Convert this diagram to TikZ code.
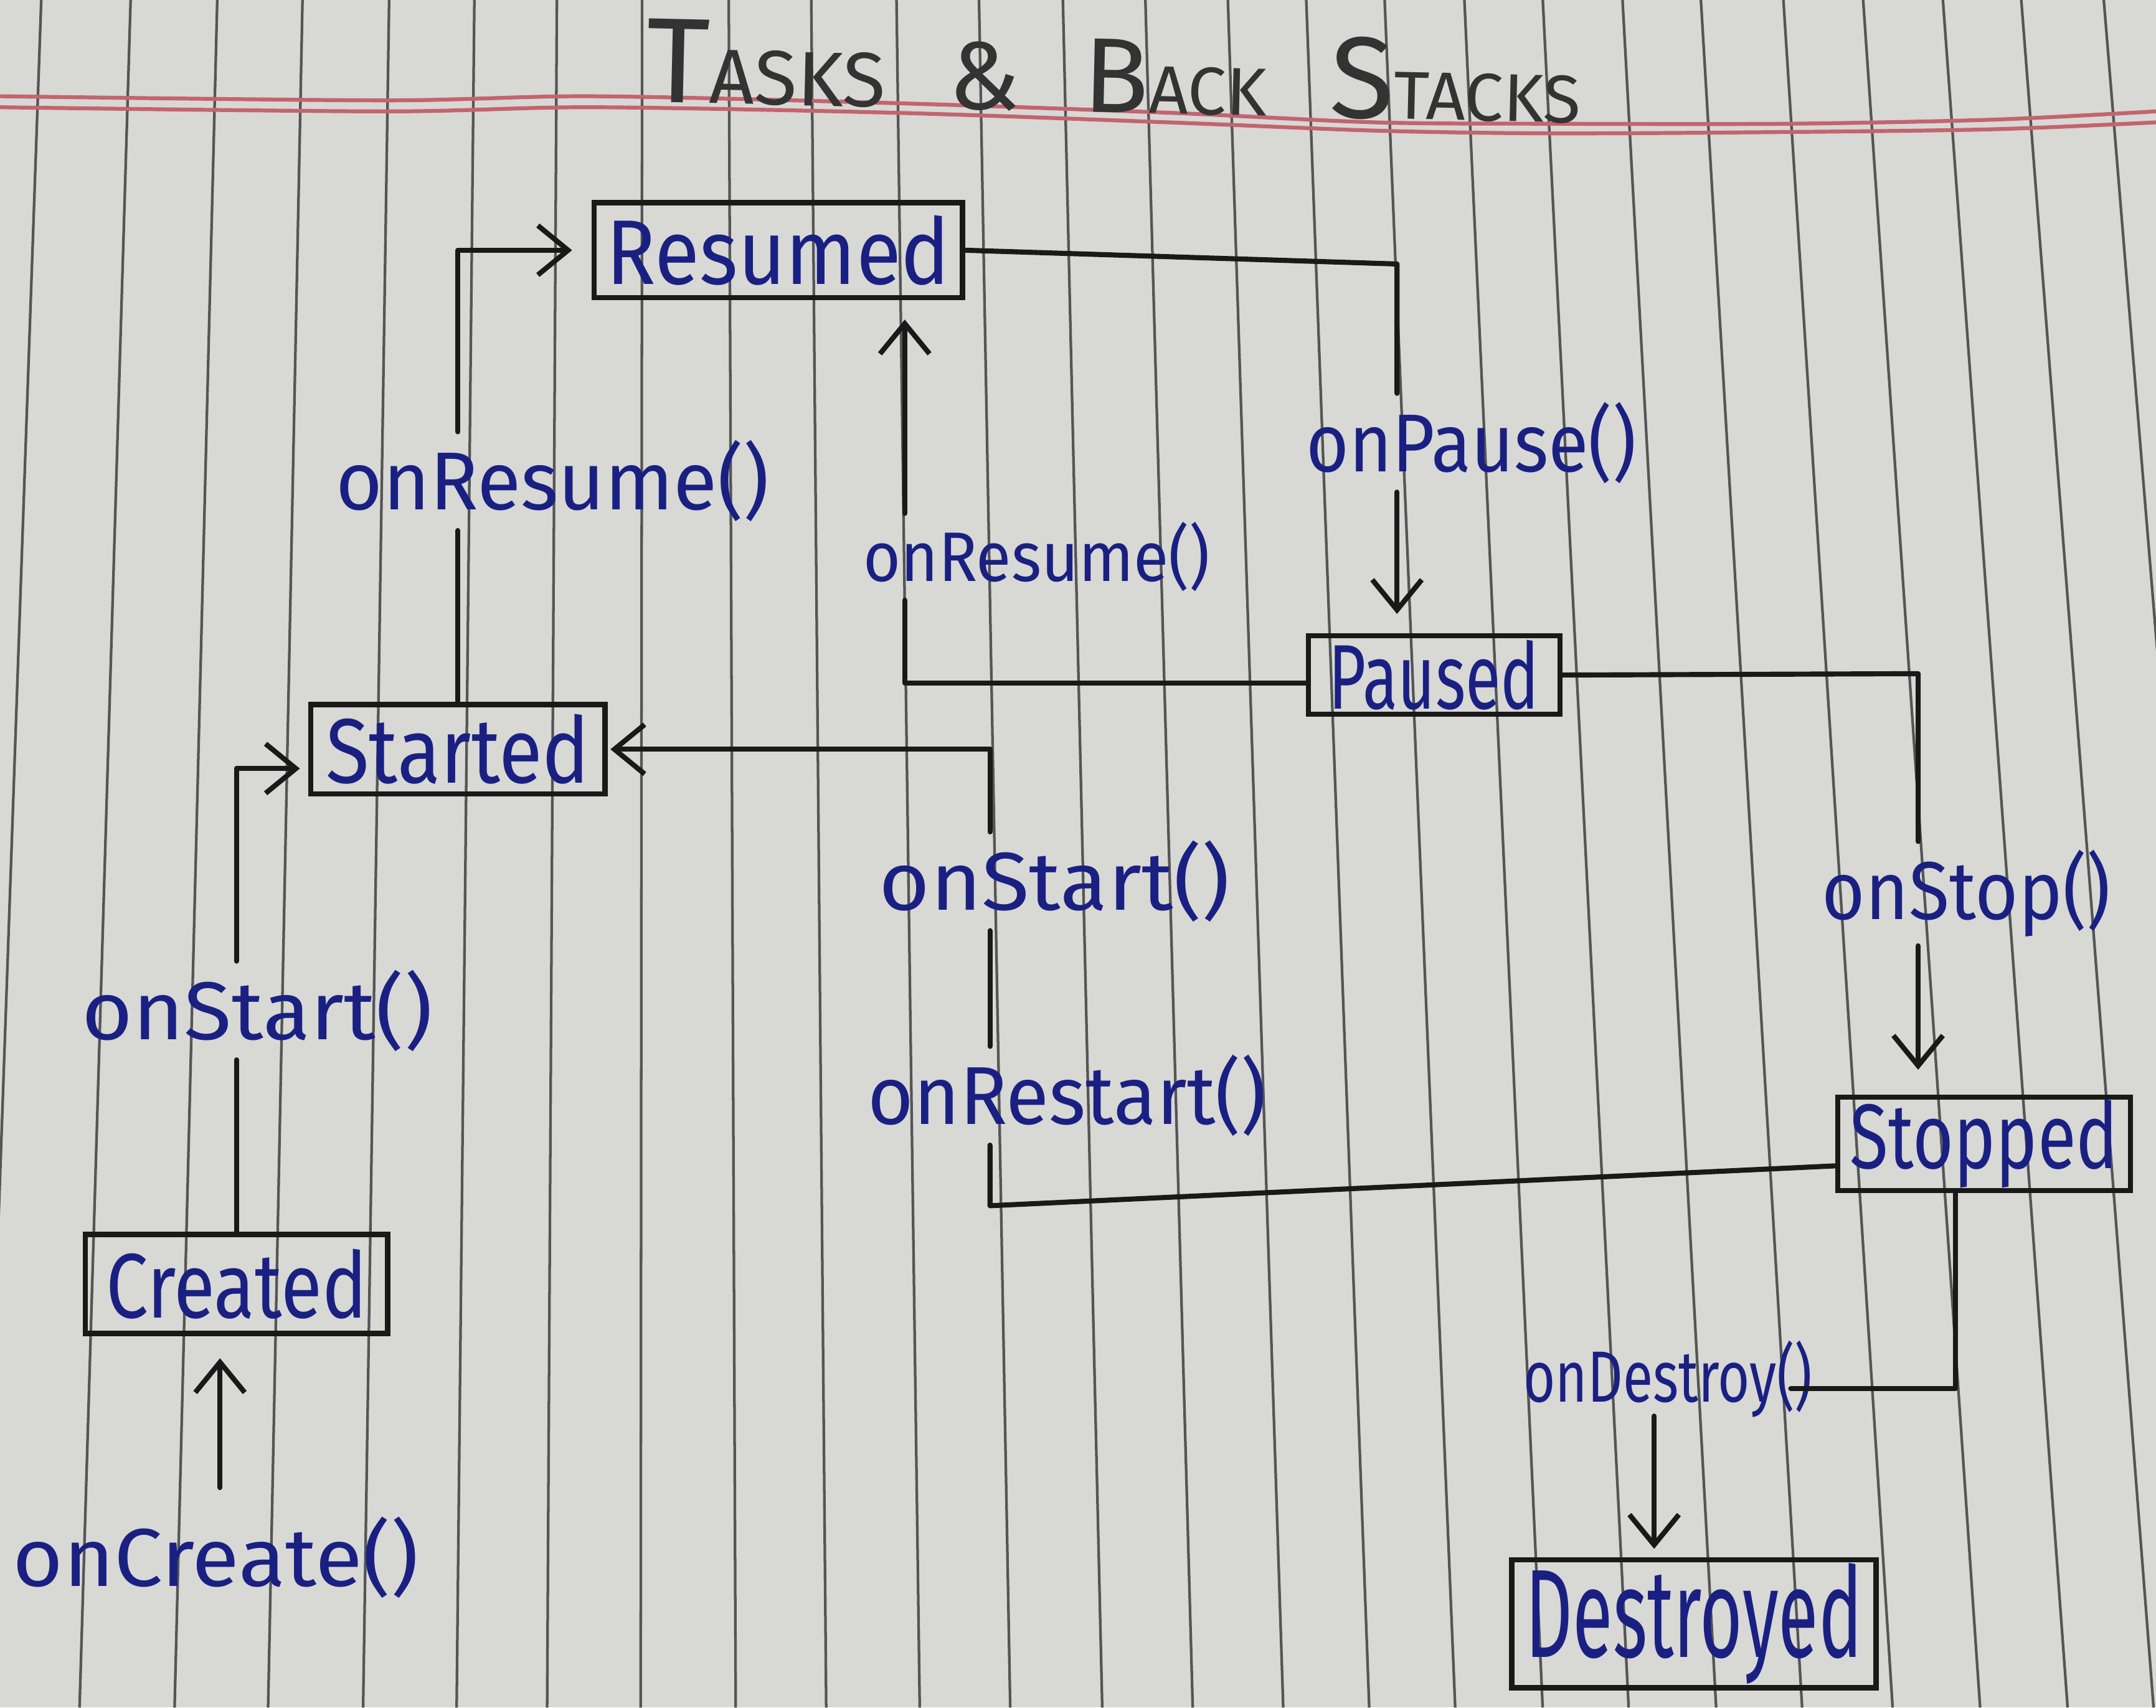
\documentclass[tikz,border=0pt]{standalone}
\usepackage{fontspec}
\setmainfont{Fira Sans}
\usepackage{graphicx}
\usetikzlibrary{arrows.meta}
\newlength\pxu \setlength\pxu{0.02cm}
\newcommand\hw[2]{\resizebox{#1\pxu}{\height}{#2}}
\definecolor{ink}{RGB}{26,32,130}
\definecolor{paper}{RGB}{216,216,213}
\definecolor{rulecol}{RGB}{85,85,85}
\definecolor{marginred}{RGB}{195,100,110}
\definecolor{pen}{RGB}{25,25,25}
\begin{document}
\begin{tikzpicture}[x=0.02cm, y=-0.02cm,
  box/.style={draw=pen, line width=2.2pt, inner sep=0pt, text=ink, font=\fontsize{38}{40}\selectfont},
  lbl/.style={text=ink, inner sep=6\pxu, font=\fontsize{34}{38}\selectfont},
  wire/.style={draw=pen, line width=2.1pt, line cap=round, line join=round},
  arr/.style={wire, -{Straight Barb[length=0.44cm, width=0.72cm]}},
  rule/.style={draw=rulecol, line width=1.1pt},
  redrule/.style={draw=marginred, line width=1.6pt}]
% paper
\fill[paper] (0,0) rectangle (1568,1242);
\useasboundingbox (0,0) rectangle (1568,1242);
\foreach \x in {30,95,158,220,283,345,405,467,530,590,652,712,773,833,893,950,1007,1065,1122,1180,1237,1297,1355,1413,1470,1530}
  \draw[rule] (\x,0) -- ({\x+0.097*(\x-478)},1242);
\draw[redrule] plot[smooth] coordinates {(0,70) (280,73) (430,70) (650,75) (850,82) (1000,89) (1130,90) (1300,90) (1450,87) (1568,81)};
\draw[redrule] plot[smooth] coordinates {(0,78) (280,81) (430,78) (650,82) (850,89) (1000,95) (1130,97) (1300,96) (1450,94) (1568,89)};

% title
\node[text=black!80, rotate=-1.3] (title) at (810,52) {\hw{680}{{\fontsize{50}{52}\selectfont T}{\fontsize{32}{34}\selectfont ASKS}\hspace{0.9cm}{\fontsize{40}{40}\selectfont\&}\hspace{0.9cm}{\fontsize{44}{44}\selectfont B}{\fontsize{28}{30}\selectfont ACK}\hspace{0.9cm}{\fontsize{48}{48}\selectfont S}{\fontsize{28}{30}\selectfont TACKS}}};

% states
\node[box, minimum width=268\pxu, minimum height=69\pxu] (Resumed) at (566,182) {\hw{250}{Resumed}};
\node[box, minimum width=214\pxu, minimum height=65\pxu] (Started) at (333,545) {\hw{192}{Started}};
\node[box, minimum width=220\pxu, minimum height=72\pxu] (Created) at (172,934) {\hw{190}{Created}};
\node[box, minimum width=183\pxu, minimum height=57\pxu] (Paused) at (1043,491) {\hw{153}{Paused}};
\node[box, minimum width=213\pxu, minimum height=68\pxu] (Stopped) at (1443,832) {\hw{195}{Stopped}};
\node[box, minimum width=265\pxu, minimum height=93\pxu, font=\fontsize{52}{54}\selectfont] (Destroyed) at (1232,1181) {\hw{245}{Destroyed}};

% labels
\node[lbl] (lCreate) at (157,1133) {\hw{295}{onCreate()}};
\node[lbl] (lStartA) at (187,735) {\hw{255}{onStart()}};
\node[lbl] (lResA) at (402,350) {\hw{315}{onResume()}};
\node[lbl, font=\fontsize{29}{32}\selectfont] (lResB) at (754,405) {\hw{252}{onResume()}};
\node[lbl] (lPause) at (1070,322) {\hw{240}{onPause()}};
\node[lbl] (lStartB) at (767,641) {\hw{255}{onStart()}};
\node[lbl] (lRestart) at (776,797) {\hw{290}{onRestart()}};
\node[lbl] (lStop) at (1430,650) {\hw{210}{onStop()}};
\node[lbl, font=\fontsize{30}{32}\selectfont] (lDestroy) at (1213,1003) {\hw{210}{onDestroy()}};

% onCreate -> Created
\coordinate (c0) at (160,1082);
\draw[arr, shorten >=16\pxu] (c0) -- (c0 |- Created.south);

% Created -> Started
\draw[wire] (Created.north) -- (Created.north |- lStartA.south);
\draw[arr, shorten >=6\pxu] (Created.north |- lStartA.north) |- ([yshift=-14\pxu]Started.west);

% Started -> Resumed
\draw[wire] (Started.north) -- (Started.north |- lResA.south);
\draw[arr, shorten >=14\pxu] (Started.north |- lResA.north) |- (Resumed.west);

% Resumed -> Paused
\coordinate (rp) at (1016,192);
\draw[wire] (Resumed.east) -- (rp) -- (rp |- lPause.north);
\draw[arr, shorten >=14\pxu] (rp |- lPause.south) -- (rp |- Paused.north);

% Paused -> Resumed
\coordinate (pr) at (658,497);
\draw[wire] ([yshift=-6\pxu]Paused.west) -- (pr) -- (pr |- lResB.south);
\draw[arr, shorten >=14\pxu] (pr |- lResB.north) -- (pr |- Resumed.south);

% Paused -> Stopped
\coordinate (ps) at (1395,490);
\draw[wire] (Paused.east) -- (ps) -- (ps |- lStop.north);
\draw[arr, shorten >=18\pxu] (ps |- lStop.south) -- (ps |- Stopped.north);

% Stopped -> Started
\coordinate (sr) at (720,877);
\draw[wire] ([yshift=-16\pxu]Stopped.west) -- (sr) -- (sr |- lRestart.south);
\draw[wire] (sr |- lRestart.north) -- (sr |- lStartB.south);
\draw[arr, shorten >=2\pxu] (sr |- lStartB.north) |- (Started.east);

% Stopped -> Destroyed
\coordinate (sd) at (1422,1010);
\draw[wire] (sd |- Stopped.south) -- (sd) -- ([xshift=-22\pxu]lDestroy.east |- sd);
\coordinate (dd) at (1203,1030);
\draw[arr, shorten >=6\pxu] (dd) -- (dd |- Destroyed.north);
\end{tikzpicture}
\end{document}
